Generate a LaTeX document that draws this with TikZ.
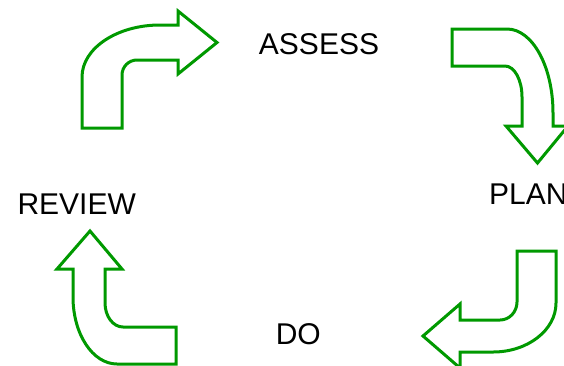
\documentclass[tikz,border=0pt]{standalone}
\usepackage{fontspec}
\setmainfont{Liberation Sans}
\definecolor{arrowgreen}{RGB}{0,153,0}
\tikzset{
  bentarrow/.style={draw=arrowgreen, line width=3pt, fill=white, line join=miter},
  label/.style={inner sep=0pt, font=\fontsize{30}{36}\selectfont, text=black}
}
\begin{document}
\begin{tikzpicture}[x=1pt, y=-1pt]
\clip (0,0) rectangle (564,365);
\fill[white] (0,0) rectangle (564,365);
% top-left arrow (REVIEW -> ASSESS)
\draw[bentarrow] (82,128) -- (82,77) .. controls (82,48.3) and (117,25) .. (160,25)
  -- (178,25) -- (178,11) -- (217,42.5) -- (178,74) -- (178,60) -- (137,60)
  .. controls (128.7,60) and (122,66.7) .. (122,75) -- (122,128) -- cycle;
% top-right arrow (ASSESS -> PLAN)
\draw[bentarrow] (452,29) -- (507,29) .. controls (532.4,29) and (553,66.6) .. (553,113)
  -- (553,126) -- (568,126) -- (537.5,163) -- (506,126) -- (522,126) -- (522,97)
  .. controls (522,79.9) and (514.4,66) .. (505,66) -- (452,66) -- cycle;
% bottom-right arrow (PLAN -> DO)
\draw[bentarrow] (517,251) -- (556,251) -- (556,303) .. controls (556,330) and (527.8,352) .. (493,352)
  -- (460,352) -- (460,368) -- (423,336) -- (460,304) -- (460,320) -- (500,320)
  .. controls (509.4,320) and (517,311.9) .. (517,302) -- cycle;
% bottom-left arrow (DO -> REVIEW)
\draw[bentarrow] (176,364) -- (176,327) -- (123,327) .. controls (113,327) and (105,316.2) .. (105,303)
  -- (105,269) -- (122,269) -- (90,231) -- (57,269) -- (73,269) -- (73,297)
  .. controls (73,334) and (92.7,364) .. (117,364) -- cycle;
% labels
\node[label] (assess) at (319,43.7) {ASSESS};
\node[label, anchor=west] (plan) at (489,193.7) {PLAN};
\node[label] (do) at (298.3,333.7) {DO};
\node[label] (review) at (76.7,204) {REVIEW};
\end{tikzpicture}
\end{document}
